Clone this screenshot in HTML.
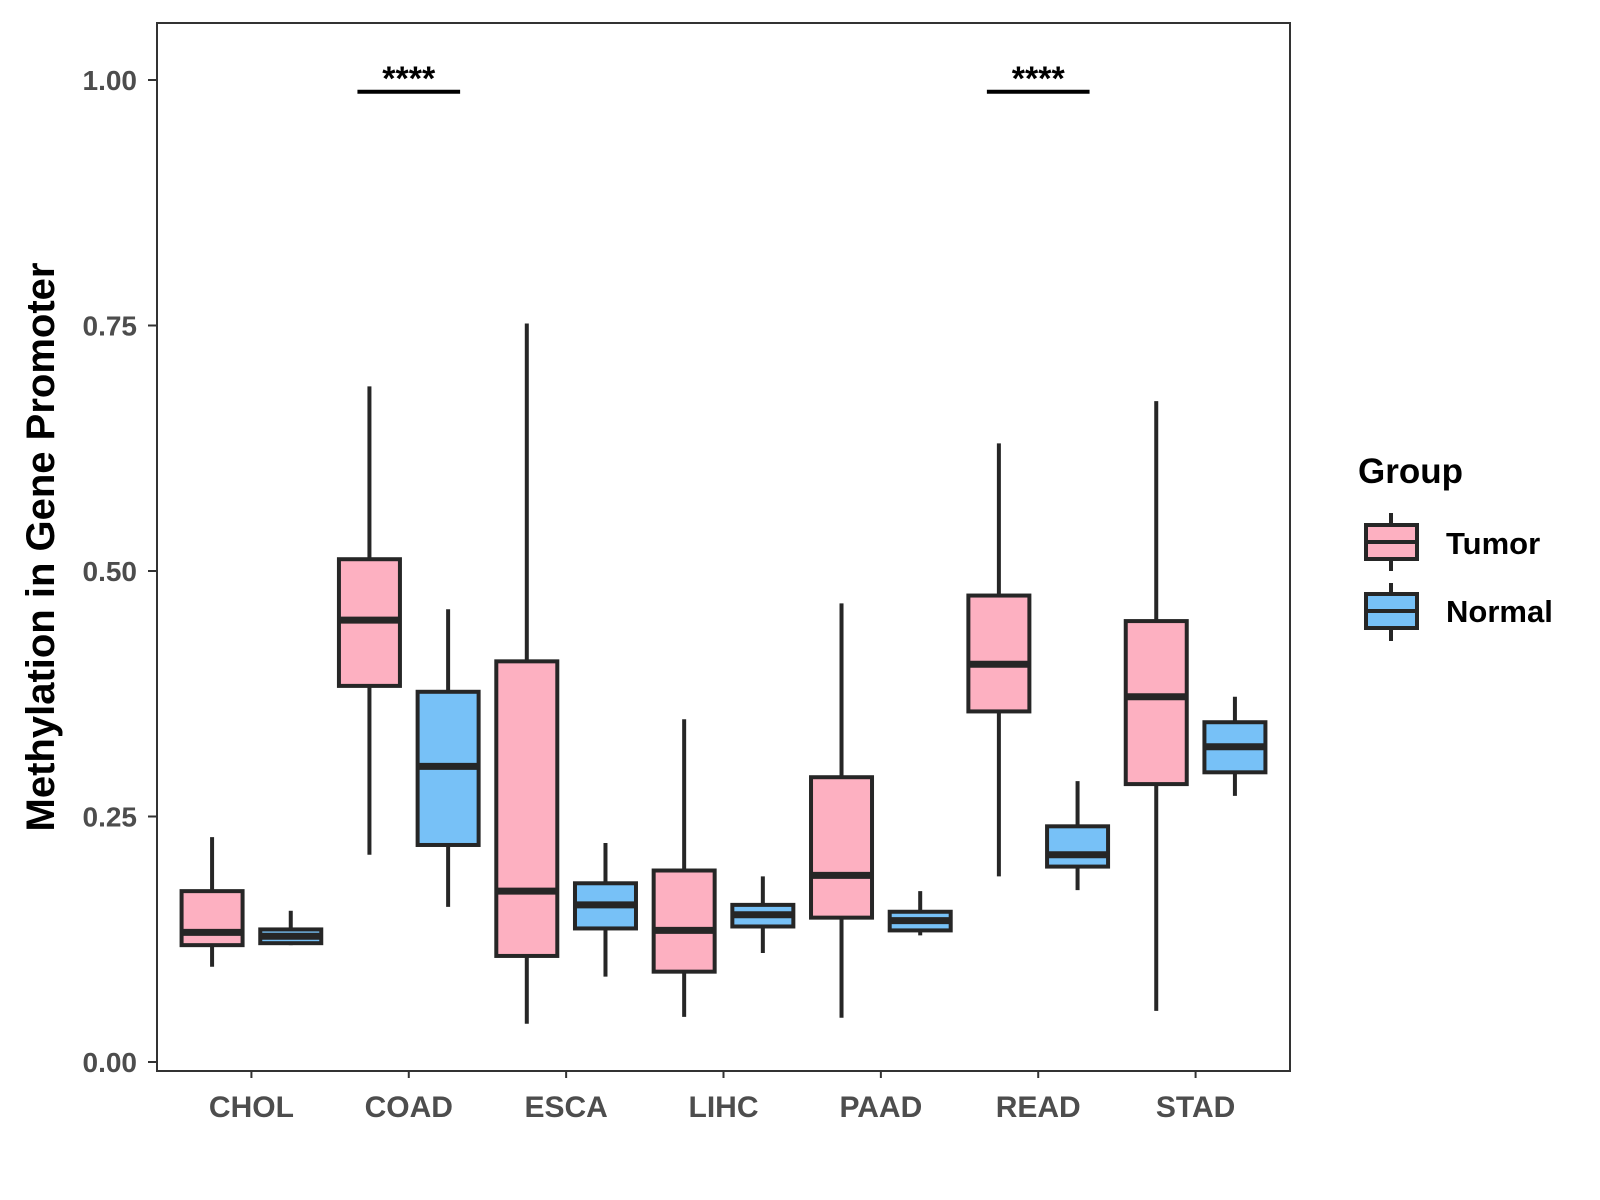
<!DOCTYPE html>
<html><head><meta charset="utf-8"><style>
body{margin:0;background:#fff}
svg{display:block;font-family:"Liberation Sans",Arial,sans-serif;font-weight:bold}
</style></head><body>
<svg id="chart" width="1600" height="1200">
<rect x="157" y="23" width="1133" height="1048" fill="#fff" stroke="#333" stroke-width="2"/>
<g id="boxes"></g>
<g id="axes"></g>
<text transform="translate(54,547) rotate(-90)" text-anchor="middle" font-size="40" fill="#000">Methylation in Gene Promoter</text>
<g>
<text x="1358" y="483" font-size="35" fill="#000">Group</text>
<g>
<line x1="1391" y1="513" x2="1391" y2="571" stroke="#262626" stroke-width="4"/>
<rect x="1366" y="525" width="51" height="34" fill="#FDB0C1" stroke="#262626" stroke-width="4"/>
<line x1="1366" y1="542" x2="1417" y2="542" stroke="#262626" stroke-width="4"/>
<text x="1446" y="554" font-size="31" fill="#000">Tumor</text>
</g>
<g>
<line x1="1391" y1="583" x2="1391" y2="641" stroke="#262626" stroke-width="4"/>
<rect x="1366" y="594" width="51" height="34" fill="#77C1F7" stroke="#262626" stroke-width="4"/>
<line x1="1366" y1="611" x2="1417" y2="611" stroke="#262626" stroke-width="4"/>
<text x="1446" y="622" font-size="31" fill="#000">Normal</text>
</g>
</g>
</svg>
<script>
const categories=["CHOL","COAD","ESCA","LIHC","PAAD","READ","STAD"];
// [whiskerLow, q1, median, q3, whiskerHigh]
const tumorStats=[[0.097,0.119,0.132,0.174,0.229],[0.211,0.383,0.450,0.512,0.688],[0.039,0.108,0.174,0.408,0.752],[0.046,0.092,0.134,0.195,0.349],[0.045,0.147,0.190,0.290,0.467],[0.189,0.357,0.405,0.475,0.630],[0.052,0.283,0.372,0.449,0.673]];
const normalStats=[[0.119,0.121,0.128,0.135,0.154],[0.158,0.221,0.301,0.377,0.461],[0.087,0.136,0.160,0.182,0.223],[0.111,0.138,0.150,0.160,0.189],[0.129,0.134,0.144,0.153,0.174],[0.175,0.199,0.211,0.240,0.286],[0.271,0.295,0.321,0.346,0.372]];
const yTicks=[0,0.25,0.5,0.75,1.0];
const yTickLabels=["0.00","0.25","0.50","0.75","1.00"];
const signifCats=["COAD","READ"];
const signifLabels=["****","****"];
const signifY=0.988;

const NS="http://www.w3.org/2000/svg";
const L=157,R=1290,band=(R-L)/7.2;
function xPos(i){return L+(0.6+i)*band;}
function yPos(v){return 1062-v*982;}
function mk(tag,attrs,parent){const e=document.createElementNS(NS,tag);for(const k in attrs)e.setAttribute(k,attrs[k]);parent.appendChild(e);return e;}
const bx=document.getElementById('boxes'),ax=document.getElementById('axes');
const bw=61,off=band*0.25;
function drawBox(s,cx,fill,name){
  const g=mk('g',{},bx);
  
  
  mk('line',{x1:cx,x2:cx,y1:yPos(s[4]),y2:yPos(s[0]),stroke:'#262626','stroke-width':4},g);
  mk('rect',{x:cx-bw/2,y:yPos(s[3]),width:bw,height:yPos(s[1])-yPos(s[3]),fill:fill,stroke:'#262626','stroke-width':4},g);
  mk('line',{x1:cx-bw/2,x2:cx+bw/2,y1:yPos(s[2]),y2:yPos(s[2]),stroke:'#262626','stroke-width':7},g);
}
categories.forEach((c,i)=>{
  drawBox(tumorStats[i],xPos(i)-off,'#FDB0C1','box-tumor-'+c.toLowerCase());
  drawBox(normalStats[i],xPos(i)+off,'#77C1F7','box-normal-'+c.toLowerCase());
  mk('line',{x1:xPos(i),x2:xPos(i),y1:1071,y2:1078,stroke:'#333','stroke-width':2},ax);
  const t=mk('text',{x:xPos(i),y:1117,'text-anchor':'middle','font-size':30,fill:'#4d4d4d'},ax);
  
  
  t.textContent=c;
});
yTicks.forEach((v,i)=>{
  mk('line',{x1:148,x2:157,y1:yPos(v),y2:yPos(v),stroke:'#333','stroke-width':2},ax);
  const t=mk('text',{x:137,y:yPos(v)+10,'text-anchor':'end','font-size':28,fill:'#4d4d4d'},ax);
  
  
  t.textContent=yTickLabels[i];
});
signifCats.forEach((c,j)=>{
  const i=categories.indexOf(c);
  const g=mk('g',{},ax);
  
  
  mk('line',{x1:xPos(i)-off-12,x2:xPos(i)+off+12,y1:yPos(signifY),y2:yPos(signifY),stroke:'#000','stroke-width':4},g);
  const t=mk('text',{x:xPos(i),y:yPos(signifY)-2,'text-anchor':'middle','font-size':34,fill:'#000'},g);
  t.textContent=signifLabels[j];
});
</script>
</body></html>
